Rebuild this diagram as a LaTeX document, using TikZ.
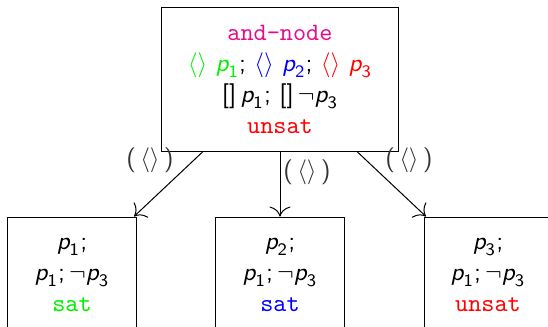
\documentclass[tikz,border=0pt]{standalone}
\usepackage{amsmath}
\usepackage{xcolor}
\usetikzlibrary{arrows.meta}
\definecolor{andpink}{RGB}{232,12,140}
\definecolor{satgreen}{RGB}{0,240,0}
\newcommand{\pv}[1]{\textsf{\itshape p}_{\textsf{#1}}}
\newcommand{\dia}{\langle\rangle}
\newcommand{\bx}{\textsf{[]}}

\begin{document}
\begin{tikzpicture}[
  x=0.4pt, y=-0.4pt,
  every node/.style={font=\fontsize{10}{12.4}\selectfont\sffamily},
  andbox/.style={rectangle, draw, thin, align=center, minimum width=94.4pt, minimum height=57.6pt},
  leafbox/.style={rectangle, draw, thin, align=center, minimum width=51.2pt, minimum height=46.4pt},
  lbl/.style={text=black!80, inner sep=0pt}
]
  \useasboundingbox (0,0) rectangle (548,327);
  \clip (0,0) rectangle (548,327);
  \node[andbox] (and) at (280,79) {%
    \texttt{\color{andpink}and-node}\\
    {\color{satgreen}$\dia\ \pv{1}$}; {\color{blue}$\dia\ \pv{2}$}; {\color{red}$\dia\ \pv{3}$}\\
    \bx\,$\pv{1}$; \bx\,$\neg\pv{3}$\\
    \texttt{\color{red}unsat}};
  \node[leafbox] (left) at (72,275) {$\pv{1}$;\\ $\pv{1}$;\,$\neg\pv{3}$\\ \texttt{\color{satgreen}sat}};
  \node[leafbox] (mid) at (280,275) {$\pv{2}$;\\ $\pv{1}$;\,$\neg\pv{3}$\\ \texttt{\color{blue}sat}};
  \node[leafbox] (right) at (488,275) {$\pv{3}$;\\ $\pv{1}$;\,$\neg\pv{3}$\\ \texttt{\color{red}unsat}};
  \draw[-{To[length=4pt]}] (and) -- (left);
  \draw[-{To[length=4pt]}] (and) -- (mid);
  \draw[-{To[length=4pt]}] (and) -- (right);
  \node[lbl] (lbl1) at (150,160) {(\,$\dia$\,)};
  \node[lbl] (lbl2) at (307,172) {(\,$\dia$\,)};
  \node[lbl] (lbl3) at (409,160) {(\,$\dia$\,)};
\end{tikzpicture}
\end{document}
